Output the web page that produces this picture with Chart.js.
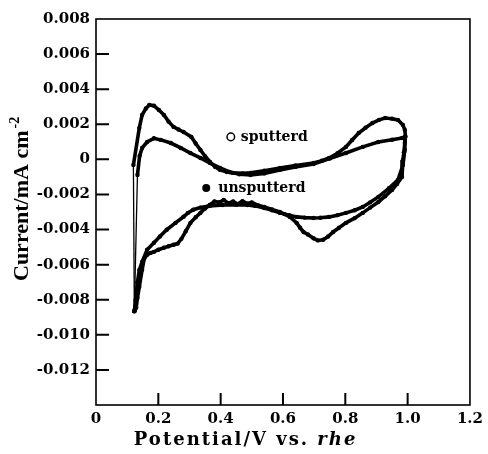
<!DOCTYPE html>
<html>
<head>
<meta charset="utf-8">
<script src="https://cdn.jsdelivr.net/npm/chart.js@4/dist/chart.umd.min.js"></script>
<style>
  html, body { margin: 0; padding: 0; background: #fff; }
  canvas { display: block; }
</style>
</head>
<body>
<canvas id="c" width="488" height="454"></canvas>
<script>
const seriesNames = ['sputterd', 'unsputterd'];
const sputterdX = [0.123,0.120,0.139,0.148,0.160,0.171,0.186,0.202,0.218,0.233,0.249,0.265,0.281,0.306,0.320,0.335,0.350,0.366,0.382,0.398,0.420,0.439,0.470,0.496,0.540,0.590,0.640,0.698,0.725,0.748,0.775,0.802,0.822,0.843,0.865,0.887,0.908,0.928,0.950,0.969,0.985,0.991,0.993,0.991,0.988,0.985,0.982,0.966,0.950,0.928,0.906,0.880,0.856,0.830,0.802,0.780,0.761,0.745,0.729,0.712,0.698,0.680,0.666,0.655,0.644,0.622,0.605,0.590,0.565,0.540,0.520,0.500,0.486,0.470,0.455,0.440,0.425,0.410,0.395,0.380,0.365,0.350,0.335,0.320,0.303,0.288,0.274,0.262,0.249,0.233,0.218,0.200,0.186,0.175,0.164,0.155,0.148,0.139,0.133,0.129,0.123];
const sputterdY = [-0.00865,-0.00032,0.00179,0.00253,0.00290,0.00310,0.00306,0.00281,0.00253,0.00215,0.00185,0.00170,0.00156,0.00128,0.00090,0.00054,0.00018,-0.00015,-0.00042,-0.00060,-0.00072,-0.00077,-0.00080,-0.00077,-0.00065,-0.00049,-0.00035,-0.00021,-0.00008,0.00008,0.00035,0.00071,0.00110,0.00150,0.00180,0.00207,0.00225,0.00236,0.00232,0.00225,0.00196,0.00168,0.00130,0.00093,0.00040,-0.00003,-0.00100,-0.00140,-0.00174,-0.00210,-0.00243,-0.00275,-0.00305,-0.00335,-0.00362,-0.00390,-0.00414,-0.00440,-0.00458,-0.00462,-0.00450,-0.00428,-0.00414,-0.00390,-0.00362,-0.00328,-0.00312,-0.00300,-0.00285,-0.00271,-0.00262,-0.00245,-0.00252,-0.00238,-0.00255,-0.00240,-0.00250,-0.00232,-0.00245,-0.00240,-0.00260,-0.00280,-0.00305,-0.00330,-0.00362,-0.00410,-0.00453,-0.00480,-0.00487,-0.00495,-0.00504,-0.00515,-0.00527,-0.00533,-0.00544,-0.00565,-0.00629,-0.00726,-0.00790,-0.00846,-0.00865];
const unsputterdX = [0.123,0.133,0.140,0.148,0.164,0.186,0.208,0.240,0.272,0.303,0.335,0.366,0.398,0.429,0.460,0.496,0.540,0.590,0.640,0.698,0.750,0.802,0.856,0.906,0.950,0.982,0.991,0.991,0.985,0.969,0.940,0.906,0.880,0.856,0.830,0.802,0.775,0.748,0.720,0.698,0.670,0.644,0.620,0.590,0.565,0.540,0.510,0.486,0.450,0.407,0.366,0.335,0.312,0.295,0.281,0.255,0.227,0.205,0.186,0.164,0.148,0.139,0.133,0.127,0.123];
const unsputterdY = [-0.00865,-0.00089,0.00020,0.00065,0.00099,0.00120,0.00111,0.00093,0.00065,0.00036,0.00008,-0.00021,-0.00049,-0.00072,-0.00085,-0.00089,-0.00080,-0.00060,-0.00043,-0.00026,0.00005,0.00036,0.00071,0.00099,0.00112,0.00122,0.00128,0.00054,-0.00032,-0.00117,-0.00165,-0.00214,-0.00245,-0.00271,-0.00290,-0.00305,-0.00318,-0.00328,-0.00333,-0.00334,-0.00332,-0.00328,-0.00318,-0.00305,-0.00290,-0.00277,-0.00265,-0.00260,-0.00258,-0.00260,-0.00265,-0.00275,-0.00287,-0.00305,-0.00327,-0.00362,-0.00401,-0.00440,-0.00475,-0.00515,-0.00584,-0.00630,-0.00700,-0.00800,-0.00865];
const xTicks = [0, 0.2, 0.4, 0.6, 0.8, 1.0, 1.2];
const xTickLabels = ['0', '0.2', '0.4', '0.6', '0.8', '1.0', '1.2'];
const yTicks = [0.008, 0.006, 0.004, 0.002, 0, -0.002, -0.004, -0.006, -0.008, -0.010, -0.012];
const yTickLabels = ['0.008', '0.006', '0.004', '0.002', '0', '-0.002', '-0.004', '-0.006', '-0.008', '-0.010', '-0.012'];
const xTitle = ['Potential/V vs. ', 'rhe'];
const yTitle = ['Current/mA cm', '-2'];

const toPoints = (xs, ys) => xs.map((x, i) => ({ x: x, y: ys[i] }));
const TICK_FONT = { family: "'DejaVu Serif', serif", size: 15, weight: 'bold' };
const segWidth = (ctx) => {
  const a = ctx.p0.parsed, b = ctx.p1.parsed;
  return (b.y - a.y > 0.003 && Math.abs(b.x - a.x) < 0.015) ? 1.3 : 3.6;
};

const decor = {
  id: 'decor',
  afterDraw(chart) {
    const ctx = chart.ctx;
    const a = chart.chartArea;
    const xs = chart.scales.x, ys = chart.scales.y;
    ctx.save();
    ctx.globalAlpha = 1;
    ctx.globalCompositeOperation = 'source-over';
    ctx.setLineDash([]);
    ctx.strokeStyle = '#000';
    ctx.fillStyle = '#000';
    ctx.lineWidth = 1.6;
    ctx.strokeRect(a.left, a.top, a.right - a.left, a.bottom - a.top);
    // inward tick marks, drawn as one path of short lines
    ctx.lineWidth = 2;
    ctx.lineCap = 'butt';
    ctx.beginPath();
    for (let i = 1; i < yTicks.length; i++) {
      const p = ys.getPixelForValue(yTicks[i]);
      ctx.moveTo(a.left, p);
      ctx.lineTo(a.left + 13, p);
    }
    for (let i = 1; i < xTicks.length - 1; i++) {
      const p = xs.getPixelForValue(xTicks[i]);
      ctx.moveTo(p, a.bottom);
      ctx.lineTo(p, a.bottom - 12);
    }
    ctx.stroke();
    // in-plot labels
    const lx1 = xs.getPixelForValue(0.4326), ly1 = ys.getPixelForValue(0.00128);
    ctx.lineWidth = 1.5;
    ctx.beginPath(); ctx.arc(lx1, ly1, 3.8, 0, Math.PI * 2); ctx.stroke();
    const lx2 = xs.getPixelForValue(0.3537), ly2 = ys.getPixelForValue(-0.00163);
    ctx.beginPath(); ctx.arc(lx2, ly2, 4, 0, Math.PI * 2); ctx.fill();
    ctx.font = "bold 14px 'DejaVu Serif', serif";
    ctx.textBaseline = 'middle';
    ctx.textAlign = 'left';
    ctx.fillText(seriesNames[0], lx1 + 10, ly1);
    ctx.fillText(seriesNames[1], lx2 + 12, ly2);
    // x title
    try { ctx.letterSpacing = '2px'; } catch (e) {}
    ctx.font = "bold 18px 'DejaVu Serif', serif";
    const w1 = ctx.measureText(xTitle[0]).width;
    ctx.font = "italic bold 18px 'DejaVu Serif', serif";
    const w2 = ctx.measureText(xTitle[1]).width;
    const cx = a.left + (a.right - a.left) * 0.4;
    const sx = cx - (w1 + w2) / 2;
    ctx.font = "bold 18px 'DejaVu Serif', serif";
    ctx.fillText(xTitle[0], sx, 440);
    ctx.font = "italic bold 18px 'DejaVu Serif', serif";
    ctx.fillText(xTitle[1], sx + w1, 440);
    try { ctx.letterSpacing = '0px'; } catch (e) {}
    // y title (rotated)
    ctx.translate(28, 281);
    ctx.rotate(-Math.PI / 2);
    ctx.textBaseline = 'alphabetic';
    ctx.font = "bold 22px 'Liberation Serif', serif";
    ctx.fillText(yTitle[0], 0, 0);
    const wy = ctx.measureText(yTitle[0]).width;
    ctx.font = "bold 14px 'Liberation Serif', serif";
    ctx.fillText(yTitle[1], wy + 2, -9);
    ctx.restore();
  }
};

new Chart(document.getElementById('c'), {
  type: 'line',
  data: {
    datasets: [
      { label: seriesNames[0], data: toPoints(sputterdX, sputterdY), borderColor: '#000', backgroundColor: '#000',
        borderWidth: 3.6, pointRadius: 2.2, pointBackgroundColor: '#000', pointBorderWidth: 0, tension: 0, fill: false,
        segment: { borderWidth: segWidth } },
      { label: seriesNames[1], data: toPoints(unsputterdX, unsputterdY), borderColor: '#000', backgroundColor: '#000',
        borderWidth: 3.6, pointRadius: 2.2, pointBackgroundColor: '#000', pointBorderWidth: 0, tension: 0, fill: false,
        segment: { borderWidth: segWidth } }
    ]
  },
  options: {
    responsive: false,
    animation: false,
    layout: { padding: { top: 19, right: 12, left: 0, bottom: 0 } },
    plugins: { legend: { display: false }, tooltip: { enabled: false } },
    scales: {
      x: {
        type: 'linear', min: 0, max: 1.2,
        afterBuildTicks: (s) => { s.ticks = xTicks.map(v => ({ value: v })); },
        afterFit: (s) => { s.height = 49; },
        grid: { display: false, drawTicks: false },
        border: { display: false },
        ticks: { color: '#000', font: TICK_FONT, padding: 5, maxRotation: 0, autoSkip: false,
          callback: (v) => { const i = xTicks.findIndex(t => Math.abs(t - v) < 1e-9); return i >= 0 ? xTickLabels[i] : ''; } }
      },
      y: {
        type: 'linear', min: -0.014, max: 0.008,
        afterBuildTicks: (s) => { s.ticks = yTicks.map(v => ({ value: v })); },
        afterFit: (s) => { s.width = 96; },
        grid: { display: false, drawTicks: false },
        border: { display: false },
        ticks: { color: '#000', font: TICK_FONT, padding: 6, autoSkip: false,
          callback: (v) => { const i = yTicks.findIndex(t => Math.abs(t - v) < 1e-9); return i >= 0 ? yTickLabels[i] : ''; } }
      }
    }
  },
  plugins: [decor]
});
</script>
</body>
</html>
